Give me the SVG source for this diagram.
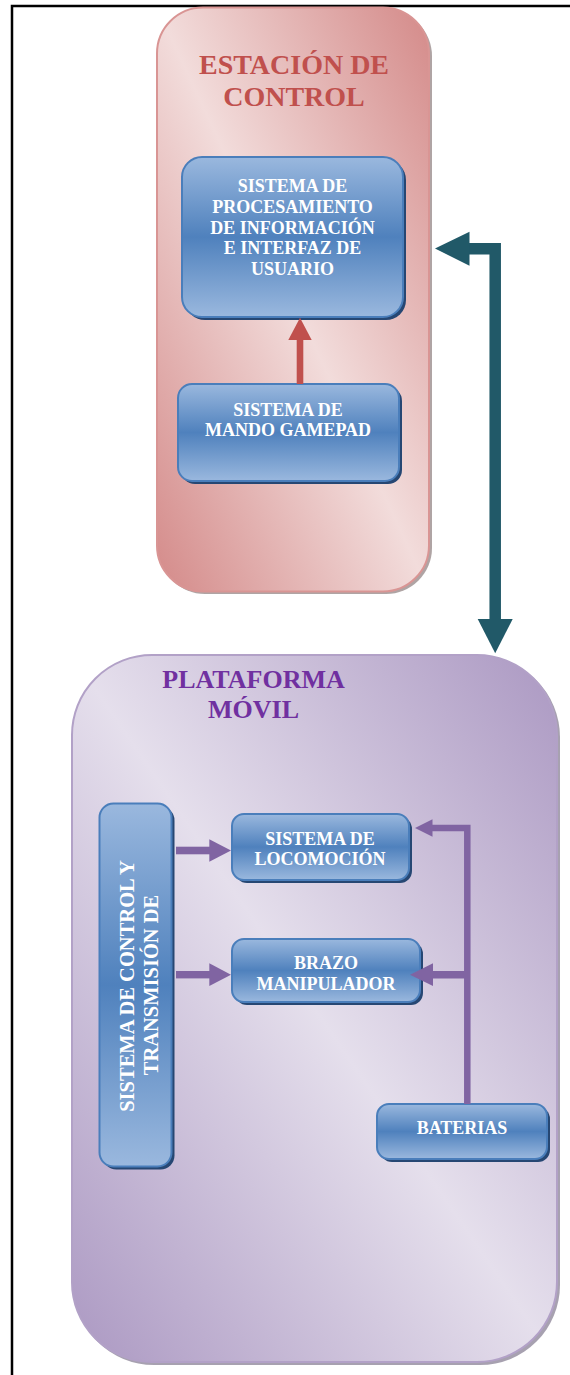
<svg xmlns="http://www.w3.org/2000/svg" width="570" height="1375" viewBox="0 0 570 1375">
<defs>
<linearGradient id="gRed" x1="1" y1="0" x2="0" y2="1">
<stop offset="0" stop-color="#d48a89"/>
<stop offset="0.5" stop-color="#f2dcdb"/>
<stop offset="1" stop-color="#d48a89"/>
</linearGradient>
<linearGradient id="gPur" x1="1" y1="0" x2="0" y2="1">
<stop offset="0" stop-color="#ab98c2"/>
<stop offset="0.5" stop-color="#e5dfec"/>
<stop offset="1" stop-color="#ab98c2"/>
</linearGradient>
<linearGradient id="gBlue" x1="0" y1="0" x2="0" y2="1">
<stop offset="0" stop-color="#9ab8de"/>
<stop offset="0.5" stop-color="#4f81bd"/>
<stop offset="1" stop-color="#9ab8de"/>
</linearGradient>
</defs>
<style>
.frame{fill:none;stroke:#000;stroke-width:2.5}
.ctitle{font-family:"Liberation Serif","Times New Roman",serif;font-weight:bold;text-anchor:middle}
.box{fill:url(#gBlue);stroke:#4a7ebb;stroke-width:2}
.shadow{fill:#264773}
.bt{font-family:"Liberation Serif","Times New Roman",serif;font-weight:bold;font-size:18px;fill:#fff;text-anchor:middle}
.vt{font-size:20.5px}
.cshadow{fill:#6e5a5a;opacity:0.55}
.pshadow{fill:#5e5470;opacity:0.55}
</style>
<path class="frame" d="M12,1375 V6 H570"/>

<g id="estacion-control">
<rect class="cshadow" x="159" y="10" width="273" height="584" rx="46"/>
<rect x="157" y="7.5" width="272" height="584" rx="46" fill="url(#gRed)" stroke="#d99594" stroke-width="2"/>
<text class="ctitle" x="294" y="73.5" font-size="28" fill="#c0504d">ESTACIÓN DE</text>
<text class="ctitle" x="294" y="106" font-size="28" fill="#c0504d">CONTROL</text>
</g>

<g id="plataforma-movil">
<rect class="pshadow" x="74" y="657" width="486" height="708" rx="80"/>
<rect x="72" y="655" width="485" height="707" rx="80" fill="url(#gPur)" stroke="#b2a1c7" stroke-width="2"/>
<text class="ctitle" x="253.5" y="687.5" font-size="26" fill="#7030a0">PLATAFORMA</text>
<text class="ctitle" x="253.5" y="718" font-size="26" fill="#7030a0">MÓVIL</text>
</g>

<g id="sistema-procesamiento">
<rect class="shadow" x="185" y="160" width="221" height="160" rx="20"/>
<rect class="box" x="182" y="157" width="221" height="160" rx="20"/>
<text class="bt" x="292.5" y="192">SISTEMA DE</text>
<text class="bt" x="292.5" y="213">PROCESAMIENTO</text>
<text class="bt" x="292.5" y="233.5">DE INFORMACIÓN</text>
<text class="bt" x="292.5" y="254">E INTERFAZ DE</text>
<text class="bt" x="292.5" y="275">USUARIO</text>
</g>

<g id="sistema-gamepad">
<rect class="shadow" x="181" y="387" width="221" height="97" rx="14"/>
<rect class="box" x="178" y="384" width="221" height="97" rx="14"/>
<text class="bt" x="288" y="415.5">SISTEMA DE</text>
<text class="bt" x="288" y="435.5">MANDO GAMEPAD</text>
</g>

<g id="sistema-control-transmision">
<rect class="shadow" x="102.5" y="806.5" width="72" height="363" rx="14"/>
<rect class="box" x="99.5" y="803.5" width="72" height="363" rx="14"/>
<text class="bt vt" transform="translate(133.5,986) rotate(-90)">SISTEMA DE CONTROL Y</text>
<text class="bt vt" transform="translate(157.5,985) rotate(-90)">TRANSMISIÓN DE</text>
</g>

<g id="sistema-locomocion">
<rect class="shadow" x="235" y="817" width="177" height="66" rx="12"/>
<rect class="box" x="232" y="814" width="177" height="66" rx="12"/>
<text class="bt" x="320" y="844.5">SISTEMA DE</text>
<text class="bt" x="320" y="865">LOCOMOCIÓN</text>
</g>

<g id="brazo-manipulador">
<rect class="shadow" x="235" y="942" width="188" height="63" rx="12"/>
<rect class="box" x="232" y="939" width="188" height="63" rx="12"/>
<text class="bt" x="326" y="969">BRAZO</text>
<text class="bt" x="326" y="989.5">MANIPULADOR</text>
</g>

<g id="baterias">
<rect class="shadow" x="380" y="1107" width="170" height="55" rx="12"/>
<rect class="box" x="377" y="1104" width="170" height="55" rx="12"/>
<text class="bt" x="462" y="1133.5">BATERIAS</text>
</g>

<g id="connectors">
<rect x="296.7" y="339" width="6.6" height="45" fill="#c0504d"/>
<polygon points="288.3,340 311.7,340 300,317.7" fill="#c0504d"/>
<path d="M495.2,620 V248.8 H469" fill="none" stroke="#215968" stroke-width="11.5" stroke-linejoin="miter"/>
<polygon points="469.5,231.7 469.5,265.7 435,248.5" fill="#215968"/>
<polygon points="477.7,619 512.7,619 495.2,653.3" fill="#215968"/>
<rect x="176" y="846.7" width="34" height="7.6" fill="#8064a2"/>
<polygon points="209.3,839.3 209.3,861.7 231,850.5" fill="#8064a2"/>
<rect x="176" y="971" width="34" height="7.4" fill="#8064a2"/>
<polygon points="209.3,963.3 209.3,986 231,974.7" fill="#8064a2"/>
<path d="M467.3,1104 V828 H432" fill="none" stroke="#8064a2" stroke-width="6.5"/>
<polygon points="432.5,819.3 432.5,836.7 415,828" fill="#8064a2"/>
<line x1="467.3" y1="974.7" x2="432" y2="974.7" stroke="#8064a2" stroke-width="7.4"/>
<polygon points="433,963.3 433,986 410,974.7" fill="#8064a2"/>
</g>
</svg>
